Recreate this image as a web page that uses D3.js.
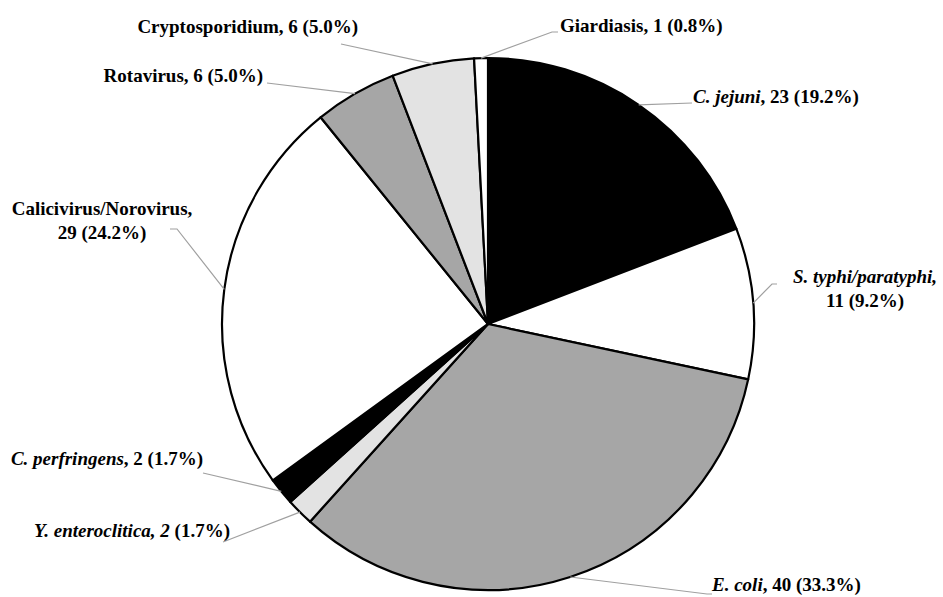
<!DOCTYPE html>
<html>
<head>
<meta charset="utf-8">
<script src="https://cdn.jsdelivr.net/npm/d3@7"></script>
<style>
  html, body { margin: 0; padding: 0; background: #fff; }
  svg { display: block; }
  text { font-family: "Times New Roman", "Liberation Serif", "DejaVu Serif", serif; font-weight: bold; fill: #000; }
</style>
</head>
<body>
<svg id="chart" width="943" height="597"></svg>
<script>
// Pathogens, clockwise from 12 o'clock
const pathogens = [
  "C. jejuni", "S. typhi/paratyphi", "E. coli", "Y. enteroclitica", "C. perfringens",
  "Calicivirus/Norovirus", "Rotavirus", "Cryptosporidium", "Giardiasis"
];
const counts = [23, 11, 40, 2, 2, 29, 6, 6, 1];
const shares = ["19.2%", "9.2%", "33.3%", "1.7%", "1.7%", "24.2%", "5.0%", "5.0%", "0.8%"];
const fills = ["#000000", "#ffffff", "#a6a6a6", "#e3e3e3", "#000000", "#ffffff", "#a6a6a6", "#e3e3e3", "#ffffff"];

// Label text as lines of [text, italic] runs
const labelLines = [
  [[["C. jejuni", true], [", " + counts[0] + " (" + shares[0] + ")", false]]],
  [[["S. typhi/paratyphi,", true]], [[counts[1] + " (" + shares[1] + ")", false]]],
  [[["E. coli", true], [", " + counts[2] + " (" + shares[2] + ")", false]]],
  [[["Y. enteroclitica, " + counts[3], true], [" (" + shares[3] + ")", false]]],
  [[["C. perfringens", true], [", " + counts[4] + " (" + shares[4] + ")", false]]],
  [[["Calicivirus/Norovirus,", false]], [[counts[5] + " (" + shares[5] + ")", false]]],
  [[["Rotavirus, " + counts[6] + " (" + shares[6] + ")", false]]],
  [[["Cryptosporidium, " + counts[7] + " (" + shares[7] + ")", false]]],
  [[["Giardiasis, " + counts[8] + " (" + shares[8] + ")", false]]]
];

// Label placement: text anchor point (first baseline) and leader-line bend points
const labelLayout = [
  { x: 693, y: 103, anchor: "start",  bend: [[692, 103]] },
  { x: 865, y: 283, anchor: "middle", bend: [[772, 284], [777, 284]] },
  { x: 712, y: 591, anchor: "start",  bend: [[707, 594], [712, 594]] },
  { x: 230, y: 537, anchor: "end",    bend: [[223, 542]] },
  { x: 203, y: 465, anchor: "end",    bend: [[203, 473]] },
  { x: 102, y: 215, anchor: "middle", bend: [[177, 229], [170, 229]] },
  { x: 263, y: 82,  anchor: "end",    bend: [[267, 83]] },
  { x: 358, y: 33,  anchor: "end",    bend: [[341, 44]] },
  { x: 560, y: 32,  anchor: "start",  bend: [[552, 32], [558, 32]] }
];

const cx = 488, cy = 324, r = 266;
const fontSize = 19, lineGap = 24;

const svg = d3.select("#chart");
const g = svg.append("g").attr("transform", `translate(${cx},${cy})`);

const pie = d3.pie().sort(null).value(d => d)(counts);
const arc = d3.arc().innerRadius(0).outerRadius(r);

// Leader lines from each slice's outer mid-point to its label
const leaderLine = d3.line();
svg.append("g").selectAll("path")
  .data(pie)
  .join("path")
  .attr("d", (d, i) => {
    const a = (d.startAngle + d.endAngle) / 2;
    const p0 = [cx + r * Math.sin(a), cy - r * Math.cos(a)];
    return leaderLine([p0, ...labelLayout[i].bend]);
  })
  .attr("fill", "none")
  .attr("stroke", "#a0a0a0")
  .attr("stroke-width", 1.2);

// Slices
g.selectAll("path.slice")
  .data(pie)
  .join("path")
  .attr("class", "slice")
  .attr("d", arc)
  .attr("fill", (d, i) => fills[i])
  .attr("stroke", "#000")
  .attr("stroke-width", 2.2)
  .attr("stroke-linejoin", "round");

// Labels
const labels = svg.append("g").selectAll("text")
  .data(labelLines)
  .join("text")
  .attr("font-size", fontSize)
  .attr("text-anchor", (d, i) => labelLayout[i].anchor);

labels.each(function(lines, i) {
  const t = d3.select(this);
  const L = labelLayout[i];
  lines.forEach((runs, li) => {
    runs.forEach((run, ri) => {
      const ts = t.append("tspan")
        .text(run[0])
        .attr("font-style", run[1] ? "italic" : "normal");
      if (ri === 0) ts.attr("x", L.x).attr("y", L.y + li * lineGap);
    });
  });
});
</script>
</body>
</html>
